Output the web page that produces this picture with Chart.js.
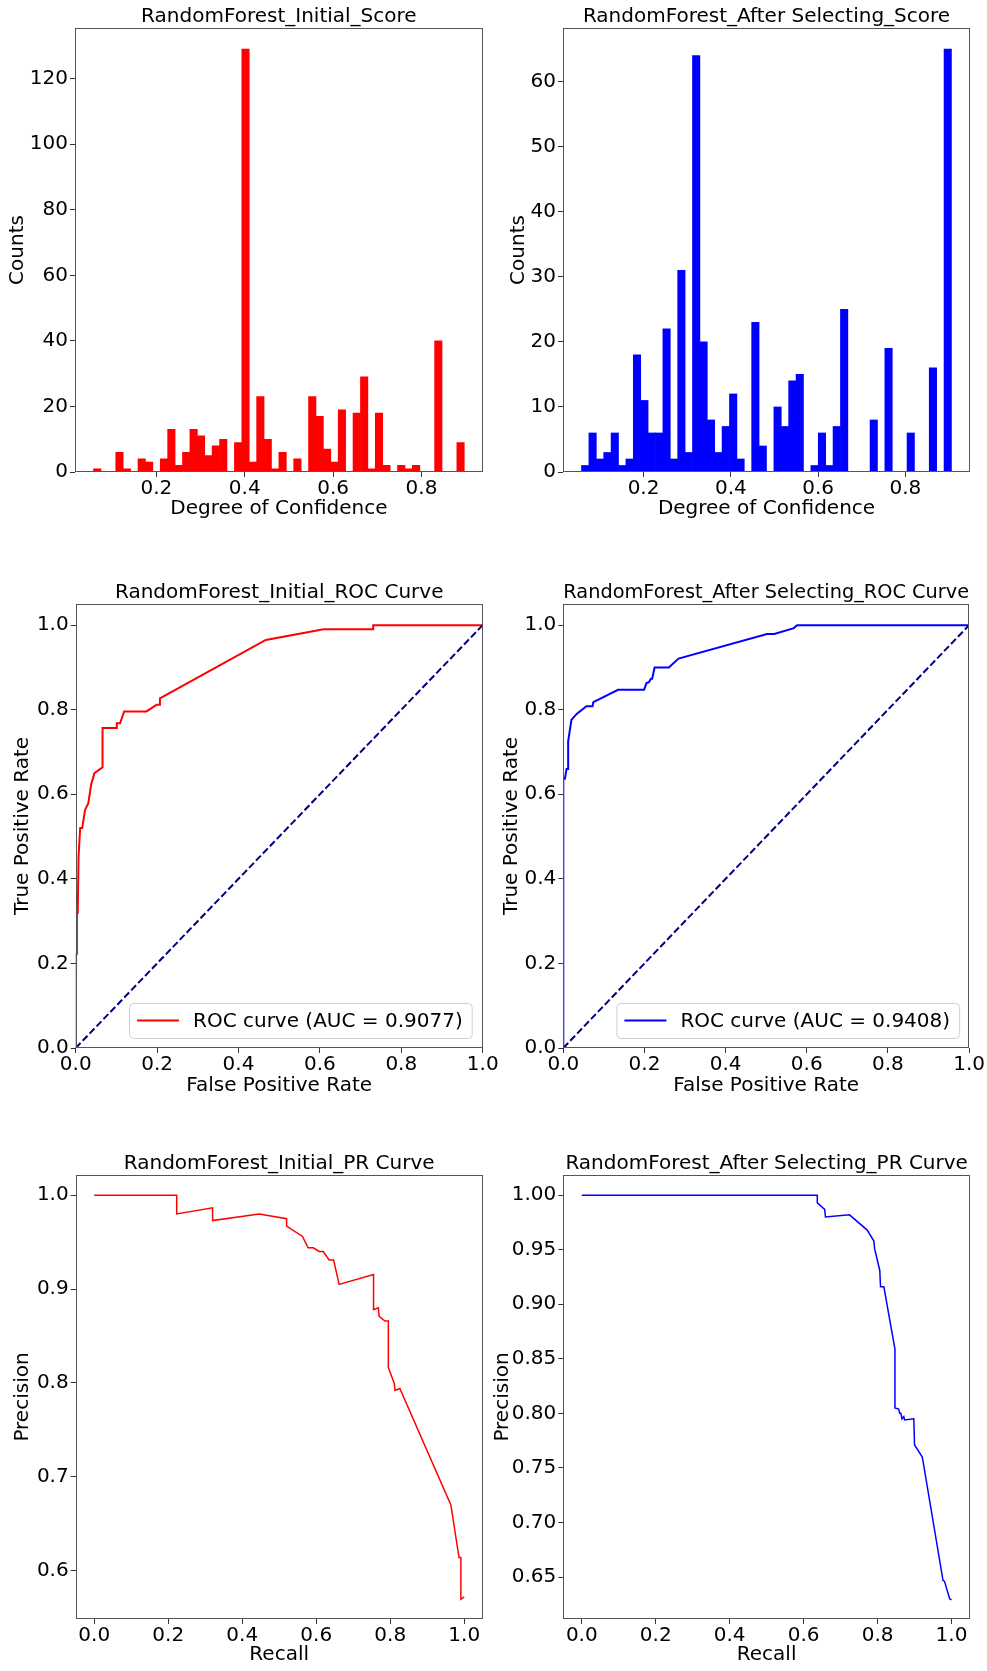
<!DOCTYPE html>
<html>
<head>
<meta charset="utf-8">
<title>RandomForest scores, ROC and PR curves</title>
<script src="https://cdn.jsdelivr.net/npm/chart.js@4.4.1/dist/chart.umd.min.js"></script>
<style>
  body { margin: 0; background: #fff; }
  #page { position: relative; width: 987px; height: 1671px; overflow: hidden; }
  canvas { position: absolute; }
</style>
</head>
<body>
<div id="page">
  <canvas id="histInitial"></canvas>
  <canvas id="histAfter"></canvas>
  <canvas id="rocInitial"></canvas>
  <canvas id="rocAfter"></canvas>
  <canvas id="prInitial"></canvas>
  <canvas id="prAfter"></canvas>
</div>
<script>
// histogram counts, 50 bins each
const initBinStart = 0.0578;
const initBinWidth = 0.01678;
const initCounts = [1, 0, 0, 6, 1, 0, 4, 3, 0, 4,
    13, 2, 6, 13, 11, 5, 8, 10, 0, 9,
    129, 3, 23, 10, 1, 6, 0, 4, 0, 23,
    17, 7, 3, 19, 0, 18, 29, 1, 18, 2,
    0, 2, 1, 2, 0, 0, 40, 0, 0, 9];

const afterBinStart = 0.0579;
const afterBinWidth = 0.01695;
const afterCounts = [1, 6, 2, 3, 6, 1, 2, 18, 11, 6,
    6, 22, 2, 31, 3, 64, 20, 8, 3, 7,
    12, 2, 0, 23, 4, 0, 10, 7, 14, 15,
    0, 1, 6, 1, 7, 25, 0, 0, 0, 8,
    0, 19, 0, 0, 6, 0, 0, 16, 0, 65];

// ROC curves
const rocInitFpr = [0, 0.001, 0.003, 0.003, 0.005, 0.007, 0.011, 0.016, 0.023, 0.031,
    0.038, 0.046, 0.066, 0.066, 0.101, 0.101, 0.109, 0.119, 0.174, 0.199,
    0.207, 0.207, 0.467, 0.609, 0.731, 0.731, 1.0];
const rocInitTpr = [0, 0.223, 0.223, 0.319, 0.319, 0.453, 0.520, 0.520, 0.563, 0.579,
    0.623, 0.650, 0.664, 0.757, 0.757, 0.768, 0.768, 0.796, 0.796, 0.812,
    0.812, 0.827, 0.965, 0.990, 0.990, 1.0, 1.0];

const rocAfterFpr = [0, 0, 0.004, 0.008, 0.012, 0.012, 0.020, 0.033, 0.057, 0.072,
    0.074, 0.135, 0.199, 0.205, 0.211, 0.216, 0.219, 0.225, 0.260, 0.284,
    0.502, 0.520, 0.568, 0.576, 1.0];
const rocAfterTpr = [0, 0.637, 0.637, 0.660, 0.660, 0.725, 0.776, 0.790, 0.808, 0.808,
    0.818, 0.847, 0.847, 0.863, 0.865, 0.873, 0.873, 0.900, 0.900, 0.921,
    0.979, 0.979, 0.993, 1.0, 1.0];

const chanceX = [0, 1];
const chanceY = [0, 1];

// PR curves
const prInitRecall = [0, 0.223, 0.223, 0.320, 0.320, 0.446, 0.520, 0.520, 0.563, 0.578,
    0.592, 0.608, 0.619, 0.635, 0.647, 0.662, 0.755, 0.755, 0.768, 0.770,
    0.786, 0.795, 0.795, 0.811, 0.813, 0.826, 0.964, 0.986, 0.991, 0.991, 1.0];
const prInitPrecision = [1.0, 1.0, 0.980, 0.9865, 0.973, 0.980, 0.975, 0.967, 0.956, 0.944,
    0.944, 0.940, 0.940, 0.931, 0.931, 0.905, 0.9155, 0.878, 0.880, 0.871,
    0.866, 0.866, 0.8165, 0.7995, 0.792, 0.794, 0.670, 0.614, 0.614, 0.5694, 0.572];

const prAfterRecall = [0, 0.637, 0.637, 0.657, 0.659, 0.724, 0.772, 0.790, 0.792, 0.806,
    0.808, 0.817, 0.847, 0.847, 0.857, 0.860, 0.863, 0.866, 0.871, 0.873,
    0.898, 0.900, 0.921, 0.977, 0.981, 0.995, 1.0];
const prAfterPrecision = [1.0, 1.0, 0.993, 0.987, 0.980, 0.982, 0.968, 0.958, 0.951, 0.931,
    0.916, 0.916, 0.859, 0.805, 0.804, 0.800, 0.800, 0.795, 0.797, 0.794,
    0.795, 0.771, 0.760, 0.647, 0.646, 0.630, 0.629];

// tick labels
const scoreTicks = [0.2, 0.4, 0.6, 0.8];
const initCountTicks = [0, 20, 40, 60, 80, 100, 120];
const afterCountTicks = [0, 10, 20, 30, 40, 50, 60];
const rateTicks = [0, 0.2, 0.4, 0.6, 0.8, 1.0];
const initPrecisionTicks = [0.6, 0.7, 0.8, 0.9, 1.0];
const afterPrecisionTicks = [0.65, 0.70, 0.75, 0.80, 0.85, 0.90, 0.95, 1.00];

Chart.defaults.font.family = '"DejaVu Sans", sans-serif';
Chart.defaults.color = '#000';

function toPoints(xs, ys) {
    return xs.map((x, i) => ({ x: x, y: ys[i] }));
}

function binPoints(start, width, counts) {
    return counts.map((c, i) => ({ x: start + width * (i + 0.5), y: c }));
}

// matplotlib-style box around the axes
const frame = {
    id: 'frame',
    afterDatasetsDraw(chart) {
        const { ctx, chartArea: a } = chart;
        ctx.save();
        ctx.strokeStyle = '#555';
        ctx.lineWidth = 1;
        ctx.strokeRect(Math.round(a.left) + 0.5, Math.round(a.top) + 0.5,
            Math.round(a.right - a.left) - 1, Math.round(a.bottom - a.top) - 1);
        ctx.restore();
    }
};

// legend box in the lower right corner of the plot
const boxLegend = {
    id: 'boxLegend',
    afterDraw(chart, args, opts) {
        if (!opts.show) return;
        const ds = chart.data.datasets[0];
        const { ctx, chartArea: a } = chart;
        ctx.save();
        ctx.font = '20px "DejaVu Sans"';
        const textW = ctx.measureText(ds.label).width;
        const w = 8 + 42 + 14 + textW + 9;
        const h = 35;
        const x = a.right - opts.right - w;
        const y = a.bottom - 10 - h;
        ctx.fillStyle = 'rgba(255,255,255,0.8)';
        ctx.strokeStyle = '#d0d0d0';
        ctx.lineWidth = 1;
        ctx.beginPath();
        ctx.roundRect(x + 0.5, y + 0.5, w, h, 4);
        ctx.fill();
        ctx.stroke();
        ctx.strokeStyle = ds.borderColor;
        ctx.lineWidth = 2;
        ctx.beginPath();
        ctx.moveTo(x + 8, y + h / 2);
        ctx.lineTo(x + 50, y + h / 2);
        ctx.stroke();
        ctx.fillStyle = '#000';
        ctx.textBaseline = 'middle';
        ctx.fillText(ds.label, x + 64, y + h / 2 + 1);
        ctx.restore();
    }
};

function axis(o) {
    return {
        type: 'linear',
        min: o.min,
        max: o.max,
        offset: false,
        afterBuildTicks: scale => { scale.ticks = o.ticks.map(v => ({ value: v })); },
        afterFit: scale => {
            if (o.x) scale.height = o.size;
            else scale.width = o.size;
        },
        grid: { display: true, drawOnChartArea: false, drawTicks: true, tickLength: 5, color: '#333', offset: false },
        border: { display: false },
        ticks: {
            font: { size: 20, lineHeight: 1 },
            padding: 2,
            autoSkip: false,
            maxRotation: 0,
            callback: v => v.toFixed(o.digits)
        },
        title: {
            display: true,
            text: o.title,
            font: { size: 20, lineHeight: 1.2 },
            padding: { top: o.pad, bottom: o.pad }
        }
    };
}

function place(id, left, top, width, height) {
    const c = document.getElementById(id);
    c.width = width;
    c.height = height;
    c.style.left = left + 'px';
    c.style.top = top + 'px';
    return c;
}

function baseOptions(title, scales, rightPad, legend) {
    return {
        responsive: false,
        animation: false,
        devicePixelRatio: 1,
        layout: { padding: { left: 0, right: rightPad, top: 0, bottom: 0 } },
        plugins: {
            legend: { display: false },
            tooltip: { enabled: false },
            title: {
                display: true,
                fullSize: false,
                text: title,
                font: { size: 20, weight: 'normal', lineHeight: 1.1 },
                color: '#000',
                padding: { top: 6, bottom: 0 }
            },
            boxLegend: legend || { show: false }
        },
        scales: scales
    };
}

function histogram(id, left, title, points, color, xr, yr, yTicks, yPad, ySize, rightPad) {
    new Chart(place(id, left, 0, left === 0 ? 510 : 497, 530), {
        type: 'bar',
        data: {
            datasets: [{
                label: 'Counts',
                data: points,
                backgroundColor: color,
                borderWidth: 0,
                barPercentage: 1,
                categoryPercentage: 1
            }]
        },
        options: baseOptions(title, {
            x: axis({ x: true, min: xr[0], max: xr[1], ticks: scoreTicks, digits: 1, size: 58, title: 'Degree of Confidence', pad: 9 }),
            y: axis({ min: 0, max: yr, ticks: yTicks, digits: 0, size: ySize, title: 'Counts', pad: yPad })
        }, rightPad),
        plugins: [frame]
    });
}

function rocChart(id, left, title, fpr, tpr, color, auc, yPad, ySize, rightPad, legendRight) {
    new Chart(place(id, left, 576, left === 0 ? 510 : 497, 534), {
        type: 'line',
        data: {
            datasets: [{
                label: 'ROC curve (AUC = ' + auc + ')',
                data: toPoints(fpr, tpr),
                borderColor: color,
                borderWidth: 2,
                pointRadius: 0,
                tension: 0,
                order: 1
            }, {
                label: 'chance',
                data: toPoints(chanceX, chanceY),
                borderColor: '#000080',
                borderWidth: 2,
                borderDash: [7, 3],
                pointRadius: 0,
                order: 0
            }]
        },
        options: baseOptions(title, {
            x: axis({ x: true, min: 0, max: 1, ticks: rateTicks, digits: 1, size: 62, title: 'False Positive Rate', pad: 12 }),
            y: axis({ min: 0, max: 1.05, ticks: rateTicks, digits: 1, size: ySize, title: 'True Positive Rate', pad: yPad })
        }, rightPad, { show: true, right: legendRight }),
        plugins: [frame, boxLegend]
    });
}

function prChart(id, left, title, recall, precision, color, yr, yTicks, digits, yPad, ySize, rightPad) {
    new Chart(place(id, left, 1147, left === 0 ? 510 : 497, 524), {
        type: 'line',
        data: {
            datasets: [{
                label: 'PR curve',
                data: toPoints(recall, precision),
                borderColor: color,
                borderWidth: 1.5,
                pointRadius: 0,
                tension: 0
            }]
        },
        options: baseOptions(title, {
            x: axis({ x: true, min: -0.05, max: 1.05, ticks: rateTicks, digits: 1, size: 52, title: 'Recall', pad: 4 }),
            y: axis({ min: yr[0], max: yr[1], ticks: yTicks, digits: digits, size: ySize, title: 'Precision', pad: yPad })
        }, rightPad),
        plugins: [frame]
    });
}

histogram('histInitial', 0, 'RandomForest_Initial_Score',
    binPoints(initBinStart, initBinWidth, initCounts), '#ff0000',
    [0.0159, 0.9385], 135.45, initCountTicks, 6, 75, 27.3);
histogram('histAfter', 490, 'RandomForest_After Selecting_Score',
    binPoints(afterBinStart, afterBinWidth, afterCounts), '#0000ff',
    [0.0155, 0.9479], 68.25, afterCountTicks, 17, 73, 17);

rocChart('rocInitial', 0, 'RandomForest_Initial_ROC Curve', rocInitFpr, rocInitTpr,
    '#ff0000', '0.9077', 11, 75.7, 27.3, 11);
rocChart('rocAfter', 490, 'RandomForest_After Selecting_ROC Curve', rocAfterFpr, rocAfterTpr,
    '#0000ff', '0.9408', 10, 73.3, 17, 10);

prChart('prInitial', 0, 'RandomForest_Initial_PR Curve', prInitRecall, prInitPrecision,
    '#ff0000', [0.5485, 1.0215], initPrecisionTicks, 1, 11, 75.7, 27.3);
prChart('prAfter', 490, 'RandomForest_After Selecting_PR Curve', prAfterRecall, prAfterPrecision,
    '#0000ff', [0.6115, 1.0185], afterPrecisionTicks, 2, 1, 73.3, 17);
</script>
</body>
</html>
